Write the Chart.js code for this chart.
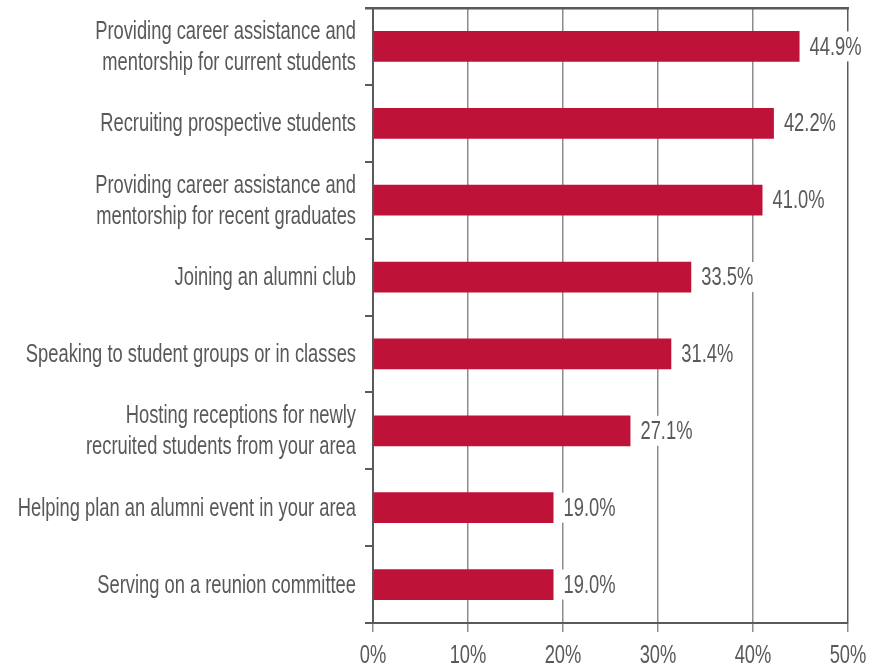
<!DOCTYPE html>
<html>
<head>
<meta charset="utf-8">
<script src="https://cdn.jsdelivr.net/npm/chart.js@4/dist/chart.umd.min.js"></script>
<style>
	html, body { margin: 0; padding: 0; background: #fff; }
	#wrap { width: 881px; height: 671px; }
</style>
</head>
<body>
<div id="wrap"><canvas id="alumniChart"></canvas></div>
<script>
const categories = [
	['Providing career assistance and', 'mentorship for current students'],
	'Recruiting prospective students',
	['Providing career assistance and', 'mentorship for recent graduates'],
	'Joining an alumni club',
	'Speaking to student groups or in classes',
	['Hosting receptions for newly', 'recruited students from your area'],
	'Helping plan an alumni event in your area',
	'Serving on a reunion committee',
];
const percentages = [44.9, 42.2, 41.0, 33.5, 31.4, 27.1, 19.0, 19.0];
const xTicks = [0, 10, 20, 30, 40, 50];

const FONT = "26px 'Liberation Sans', Arial, sans-serif";
const SQUEEZE = 0.705; // condensed look
const textGray = '#595959';
const axisGray = '#5a5a5a';
const gridGray = '#8c8c8c';

// draw text squeezed horizontally, anchored at x according to align
const narrowText = (ctx, txt, x, y, align) => {
	const w = ctx.measureText(txt).width * SQUEEZE;
	let left = x;
	if (align === 'right') left = x - w;
	else if (align === 'center') left = x - w / 2;
	ctx.save();
	ctx.translate(left, y);
	ctx.scale(SQUEEZE, 1);
	ctx.textAlign = 'left';
	ctx.fillText(txt, 0, 0);
	ctx.restore();
	return w;
};

// value labels right of the bars (white box breaks the gridlines), axis labels, top frame line
const textLayer = {
	id: 'textLayer',
	afterDatasetsDraw(chart) {
		const ctx = chart.ctx;
		const meta = chart.getDatasetMeta(0);
		ctx.save();
		ctx.font = FONT;
		ctx.textBaseline = 'middle';
		meta.data.forEach((bar, i) => {
			const txt = percentages[i].toFixed(1) + '%';
			const w = ctx.measureText(txt).width * SQUEEZE;
			const x = bar.x + 10;
			ctx.fillStyle = '#fff';
			ctx.fillRect(x - 3, bar.y - 15, w + 6, 30);
			ctx.fillStyle = textGray;
			narrowText(ctx, txt, x, bar.y + 1, 'left');
		});
		ctx.restore();
	},
	afterDraw(chart) {
		const ctx = chart.ctx;
		const area = chart.chartArea;
		const yScale = chart.scales.y;
		const xScale = chart.scales.x;
		ctx.save();
		ctx.fillStyle = axisGray;
		ctx.fillRect(area.left - 8, area.top - 1, area.right - area.left + 9, 2.5);

		ctx.font = FONT;
		ctx.textBaseline = 'middle';
		ctx.fillStyle = textGray;
		categories.forEach((label, i) => {
			const cy = yScale.getPixelForTick(i);
			const lines = Array.isArray(label) ? label : [label];
			const lh = 31;
			lines.forEach((line, j) => {
				const ly = cy + (j - (lines.length - 1) / 2) * lh + 1;
				narrowText(ctx, line, 356, ly, 'right');
			});
		});
		xTicks.forEach((v) => {
			narrowText(ctx, v + '%', xScale.getPixelForValue(v), 656, 'center');
		});
		ctx.restore();
	},
};

const lastTick = xTicks.length - 1;

new Chart(document.getElementById('alumniChart'), {
	type: 'bar',
	data: {
		labels: categories,
		datasets: [
			{
				data: percentages,
				backgroundColor: '#BF1238',
				borderWidth: 0,
				barPercentage: 0.4,
				categoryPercentage: 1,
			},
		],
	},
	options: {
		indexAxis: 'y',
		responsive: true,
		maintainAspectRatio: false,
		animation: false,
		layout: {
			padding: { top: 8, right: 33, bottom: 0, left: 0 },
		},
		plugins: {
			legend: { display: false },
			tooltip: { enabled: false },
		},
		scales: {
			x: {
				min: 0,
				max: 50,
				afterBuildTicks: (scale) => {
					scale.ticks = xTicks.map((v) => ({ value: v }));
				},
				afterFit: (scale) => {
					scale.height = 48;
				},
				grid: {
					color: (c) => (c.index === lastTick ? axisGray : gridGray),
					lineWidth: 1.5,
					tickColor: gridGray,
					tickLength: 9,
				},
				border: { color: axisGray, width: 2 },
				ticks: { display: false },
			},
			y: {
				afterFit: (scale) => {
					scale.width = 373;
				},
				grid: {
					offset: true,
					drawOnChartArea: false,
					tickColor: axisGray,
					tickLength: 8,
					lineWidth: 2,
				},
				border: { color: axisGray, width: 2 },
				ticks: { display: false },
			},
		},
	},
	plugins: [textLayer],
});
</script>
</body>
</html>
